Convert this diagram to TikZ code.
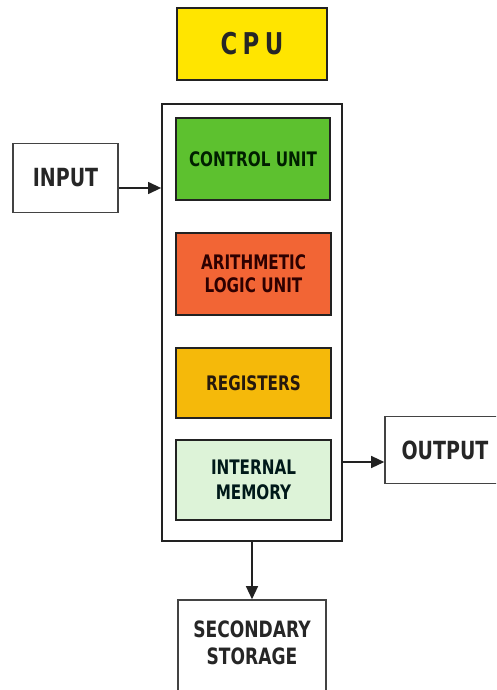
\documentclass[tikz,border=0pt]{standalone}
\usepackage{fontspec}
\setmainfont{DejaVu Sans}[FakeStretch=0.76]
\usetikzlibrary{arrows.meta}
\definecolor{cpuyel}{HTML}{FFE500}
\definecolor{cugreen}{HTML}{5DC12F}
\definecolor{alured}{HTML}{F26535}
\definecolor{regorange}{HTML}{F5B90A}
\definecolor{memgreen}{HTML}{DDF3D8}
\definecolor{edge}{HTML}{222222}
\tikzset{
  unitbox/.style={draw=edge, line width=2.2pt, inner sep=0pt, align=center,
    font=\bfseries\fontsize{20}{23}\selectfont, text=black!85},
  outbox/.style={draw=edge!85, line width=1.6pt, inner sep=0pt, align=center, fill=white,
    font=\bfseries\fontsize{25}{27}\selectfont, text=black!85},
  arr/.style={draw=edge, line width=1.3pt, -{Triangle[length=13pt,width=12pt]}}
}
\begin{document}
\begin{tikzpicture}[x=1pt,y=-1pt]
\useasboundingbox (0,0) rectangle (496,690);
\clip (0,0) rectangle (496,690);
\fill[white] (0,0) rectangle (496,690);
% container
\node[draw=edge, line width=1.8pt, minimum width=180pt, minimum height=437pt] (cont) at (252,322.5) {};
% CPU
\node[unitbox, fill=cpuyel, minimum width=150pt, minimum height=72pt,
  font=\bfseries\fontsize{30}{32}\selectfont] (cpu) at (252,44) {C\hspace{0.18em}P\hspace{0.18em}U};
% units
\node[unitbox, fill=cugreen, text=black!80!green!60!black, minimum width=154pt, minimum height=82pt] (cu) at (253,159) {CONTROL UNIT};
\node[unitbox, fill=alured, text=black!75!red!70!black, minimum width=155pt, minimum height=82pt] (alu) at (253.5,274) {ARITHMETIC\\LOGIC UNIT};
\node[unitbox, fill=regorange, text=black!80!brown, minimum width=155pt, minimum height=70pt] (reg) at (253.5,383) {REGISTERS};
\node[unitbox, fill=memgreen, text=black!80!teal, minimum width=155pt, minimum height=80pt, font=\bfseries\fontsize{20}{25}\selectfont] (mem) at (253.5,480) {INTERNAL\\MEMORY};
% outer boxes
\node[outbox, minimum width=105pt, minimum height=69pt] (input) at (65.5,178) {INPUT};
\node[outbox, minimum width=120pt, minimum height=67pt] (output) at (445,450) {OUTPUT};
\node[outbox, minimum width=148pt, minimum height=110pt] (sec) at (252,655) {};
\node[font=\bfseries\fontsize{22.5}{27}\selectfont, text=black!85, align=center, anchor=north] (sectext) at (252,617) {SECONDARY\\STORAGE};
% connectors
\draw[arr] ([yshift=-10pt]input.east) -- ([yshift=-10pt]input.east -| cont.west);
\draw[arr] ([yshift=-12pt]output.west -| cont.east) -- ([yshift=-12pt]output.west);
\draw[arr] (cont.south) -- (sec.north);
\end{tikzpicture}
\end{document}
